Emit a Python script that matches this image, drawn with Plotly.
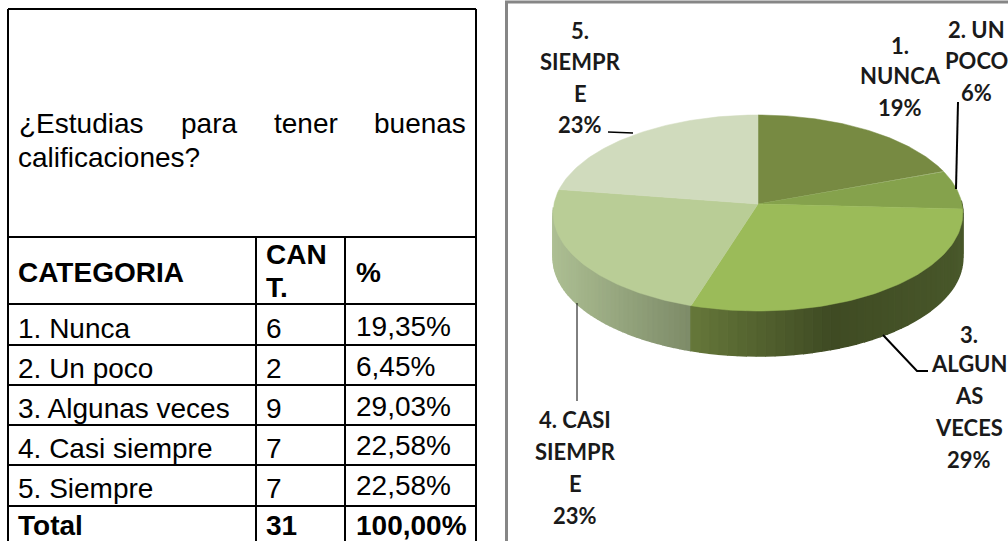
import numpy as np
import plotly.graph_objects as go

# ---------- data ----------
question_words = ["¿Estudias", "para", "tener", "buenas"]
question_second_line = "calificaciones?"
table_head = ["CATEGORIA", "%"]
table_head_cant = ["CAN", "T."]
categories = ["1. Nunca", "2. Un poco", "3. Algunas veces", "4. Casi siempre", "5. Siempre"]
counts = [6, 2, 9, 7, 7]
percents = ["19,35%", "6,45%", "29,03%", "22,58%", "22,58%"]
total_row = ["Total", "31", "100,00%"]
slice_colors = ["#778a42", "#85a24c", "#9bbb59", "#b9cd96", "#d0dbbd"]
pie_labels = [
    ["1.", "NUNCA", "19%"],
    ["2. UN", "POCO", "6%"],
    ["3.", "ALGUN", "AS", "VECES", "29%"],
    ["4. CASI", "SIEMPR", "E", "23%"],
    ["5.", "SIEMPR", "E", "23%"],
]

# ---------- layout constants ----------
W, H = 1008, 541
FONT = "Liberation Sans"
PIE_FONT = "Lato"
col_x = [8, 256, 345, 476]
row_y = [9, 237, 304, 345, 385, 425, 465, 506]
label_x = [900, 976, 969, 575, 580]
label_y = [[45, 75, 107], [29, 60, 92], [334, 363, 395, 427, 459],
           [419, 451, 483, 515], [30, 61, 93, 124]]
leaders = [
    ([958, 956], [102, 189], 2),
    ([883, 917, 928], [335, 371, 371], 2),
    ([577, 577], [303, 401], 1),
    ([608, 633], [132, 133], 1.5),
]
CX, CY, AX, AY, K, DEPTH = 758, 204, 204, 97.2, 0.0918, 45


def project(theta):
    X, Y = np.sin(theta), np.cos(theta)
    d = 1 + K * Y
    return CX + AX * X / d, CY - AY * Y / d


def mix(c1, c2, t):
    a = [int(c1[i:i + 2], 16) for i in (1, 3, 5)]
    b = [int(c2[i:i + 2], 16) for i in (1, 3, 5)]
    return "rgb(%d,%d,%d)" % tuple(round(p + (q - p) * t) for p, q in zip(a, b))


fig = go.Figure()
fractions = np.array(counts) / sum(counts)
edges = np.concatenate([[0], np.cumsum(fractions)]) * 2 * np.pi


def wall_color(i, x):
    if i == 3:
        return mix("#adbf93", "#7d8b68", (x - 552) / 138)
    if x < 830:
        return mix("#66783a", "#3f4b23", (x - 690) / 140)
    return mix("#3f4b23", "#48572a", (x - 830) / 132)


# side wall, cut in narrow strips to imitate the gradient
for i in (3, 2):
    a0, a1 = edges[i], edges[i + 1]
    a0 = max(a0, np.pi / 2)
    a1 = min(a1, np.radians(268))
    if i == 2:
        a0 = np.radians(88)
    th = np.linspace(a0, a1, 46)
    for t0, t1 in zip(th[:-1], th[1:]):
        seg_t = np.linspace(t0, t1, 4)
        x, y = project(seg_t)
        col = wall_color(i, float(x.mean()))
        fig.add_trace(go.Scatter(
            x=np.concatenate([x, x[::-1]]),
            y=np.concatenate([y, y[::-1] + DEPTH]),
            mode="lines", fill="toself",
            fillcolor=col,
            line=dict(color=col, width=1.5),
            hoverinfo="skip", showlegend=False))

# top face
for i, c in enumerate(slice_colors):
    th = np.linspace(edges[i], edges[i + 1], 80)
    x, y = project(th)
    fig.add_trace(go.Scatter(
        x=np.concatenate([[CX], x, [CX]]),
        y=np.concatenate([[CY], y, [CY]]),
        mode="lines", fill="toself", fillcolor=c,
        line=dict(color=c, width=0.5),
        name=categories[i], showlegend=False))

# leader lines
for lx, ly, lw in leaders:
    fig.add_trace(go.Scatter(x=lx, y=ly, mode="lines",
                             line=dict(color="#000000", width=lw),
                             hoverinfo="skip", showlegend=False))

ann = []


def text(x, y, s, anchor="left", bold=False, size=28, family=FONT, color="#000000"):
    ann.append(dict(x=x, y=y, text=f"<b>{s}</b>" if bold else s, showarrow=False,
                    xanchor=anchor, yanchor="middle", xref="x", yref="y",
                    align=anchor, borderpad=0,
                    font=dict(family=family, size=size, color=color)))


# question cell
for xx, w in zip([18, 180, 273, 373], question_words):
    text(xx, 123, w)
text(17, 157, question_second_line)

# header row
text(17, 272, table_head[0], bold=True)
text(265, 254, table_head_cant[0], bold=True)
text(265, 287, table_head_cant[1], bold=True)
text(355, 272, table_head[1], bold=True)

# body rows
ys_cat = [328, 368, 408, 448, 488]
ys_pct = [326, 366, 406, 445, 485]
for c, n, p, y1, y2 in zip(categories, counts, percents, ys_cat, ys_pct):
    text(17, y1, c)
    text(265, y1, str(n))
    text(355, y2, p)
text(17, 525, total_row[0], bold=True)
text(265, 525, total_row[1], bold=True)
text(355, 525, total_row[2], bold=True)

# pie labels
for lines, xx, ys in zip(pie_labels, label_x, label_y):
    for s, yy in zip(lines, ys):
        text(xx, yy, s, anchor="center", bold=True, size=22, family=PIE_FONT, color="#1a1a1a")

# table grid
shapes = []


def seg(x0, y0, x1, y1, color="#000000", width=2):
    shapes.append(dict(type="line", xref="x", yref="y", x0=x0, y0=y0, x1=x1, y1=y1,
                       line=dict(color=color, width=width), layer="above"))


seg(col_x[0], row_y[0], col_x[3], row_y[0])
seg(col_x[0], row_y[0], col_x[0], H)
seg(col_x[3], row_y[0], col_x[3], H)
for yy in row_y[1:]:
    seg(col_x[0], yy, col_x[3], yy)
seg(col_x[1], row_y[1], col_x[1], H)
seg(col_x[2], row_y[1], col_x[2], H)
# chart frame
seg(506.5, 2, 506.5, H, "#868686", 3)
seg(505, 2, W, 2, "#868686", 3)

fig.update_layout(
    width=W, height=H, margin=dict(l=0, r=0, t=0, b=0),
    paper_bgcolor="#ffffff", plot_bgcolor="#ffffff",
    xaxis=dict(range=[0, W], visible=False, fixedrange=True),
    yaxis=dict(range=[H, 0], visible=False, fixedrange=True),
    annotations=ann, shapes=shapes, showlegend=False)
fig.write_html("out.html", config=dict(displayModeBar=False),
               post_script="document.body.style.margin='0';document.body.style.overflow='hidden';")
